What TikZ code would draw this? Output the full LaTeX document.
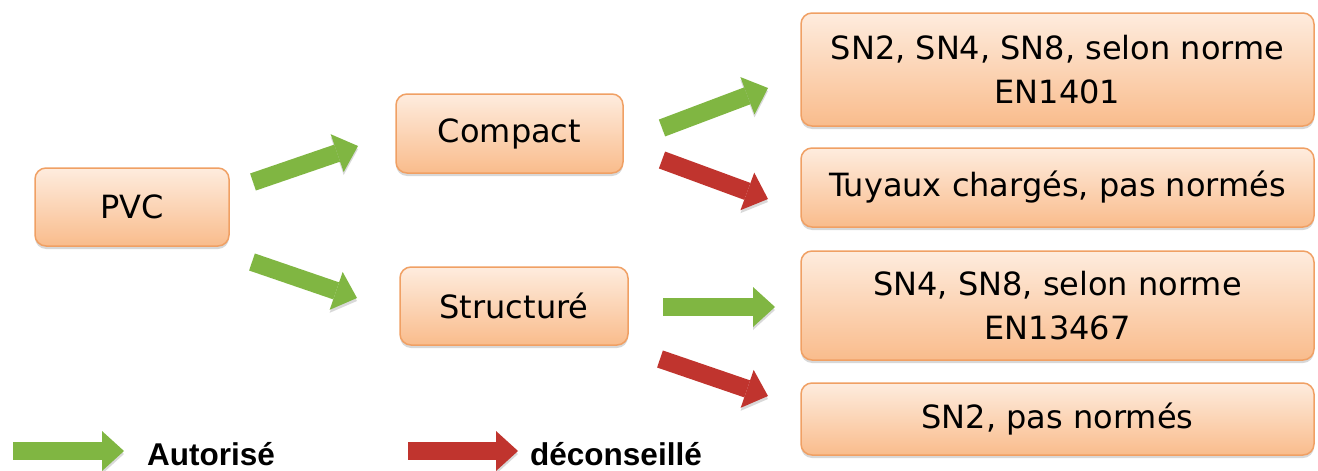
\documentclass[tikz,border=0pt]{standalone}
\usepackage{fontspec}
\setmainfont{DejaVu Sans}
\newfontfamily\legfont{Liberation Sans}
\usetikzlibrary{arrows.meta,shadows}
\definecolor{boxtop}{RGB}{254,236,222}
\definecolor{boxbot}{RGB}{249,188,140}
\definecolor{boxline}{RGB}{240,160,100}
\definecolor{okgreen}{RGB}{128,182,66}
\definecolor{badred}{RGB}{192,52,46}
\begin{document}
\begin{tikzpicture}[x=1pt,y=-1pt,
 box/.style={draw=boxline, line width=1.5pt, rounded corners=11pt, top color=boxtop, bottom color=boxbot, inner sep=0pt, align=center, font=\fontsize{32}{44}\selectfont, drop shadow={shadow xshift=0pt,shadow yshift=-3pt,opacity=0.3}},
 fat/.style={line width=18pt, -{Triangle[width=40pt,length=22pt,line width=0pt]},
   preaction={draw=black, opacity=0.15, transform canvas={yshift=-3pt}}},
 ok/.style={fat, draw=okgreen},
 bad/.style={fat, draw=badred},
 leg/.style={font=\legfont\bfseries\fontsize{31.5}{36}\selectfont, anchor=base west, inner sep=0pt}]
\useasboundingbox[fill=white] (0,0) rectangle (1318,471);
\node[box, minimum width=194pt, minimum height=78pt] (pvc) at (132,207) {PVC};
\node[box, minimum width=227pt, minimum height=79pt] (compact) at (509.5,133.5) {Compact};
\node[box, minimum width=228pt, minimum height=78pt] (struct) at (514,306) {Structuré};
\node[box, minimum width=513pt, minimum height=113pt] (r1) at (1057.5,69.5) {SN2, SN4, SN8, selon norme\\EN1401};
\node[box, minimum width=513pt, minimum height=79pt] (r2) at (1057.5,187.5) {Tuyaux chargés, pas normés};
\node[box, minimum width=513pt, minimum height=109pt] (r3) at (1057.5,305.5) {SN4, SN8, selon norme\\EN13467};
\node[box, minimum width=513pt, minimum height=72pt] (r4) at (1057.5,419) {SN2, pas normés};
\coordinate (a1s) at (253,182); \coordinate (a1e) at (358,146);
\coordinate (a2s) at (252,262); \coordinate (a2e) at (357,298);
\coordinate (b1s) at (662,128); \coordinate (b1e) at (768,88);
\coordinate (b2s) at (662,160); \coordinate (b2e) at (768,199);
\coordinate (b3s) at (663,307); \coordinate (b3e) at (775,307);
\coordinate (b4s) at (660,359); \coordinate (b4e) at (768,396);
\coordinate (l1s) at (13,451); \coordinate (l1e) at (124,451);
\coordinate (l2s) at (408,451); \coordinate (l2e) at (518,451);
\draw[ok] (a1s) -- (a1e);
\draw[ok] (a2s) -- (a2e);
\draw[ok] (b1s) -- (b1e);
\draw[bad] (b2s) -- (b2e);
\draw[ok] (b3s) -- (b3e);
\draw[bad] (b4s) -- (b4e);
\draw[ok] (l1s) -- (l1e);
\draw[bad] (l2s) -- (l2e);
\node[leg] (lok) at (147,465) {Autorisé};
\node[leg] (lbad) at (530,465) {déconseillé};
\end{tikzpicture}
\end{document}
